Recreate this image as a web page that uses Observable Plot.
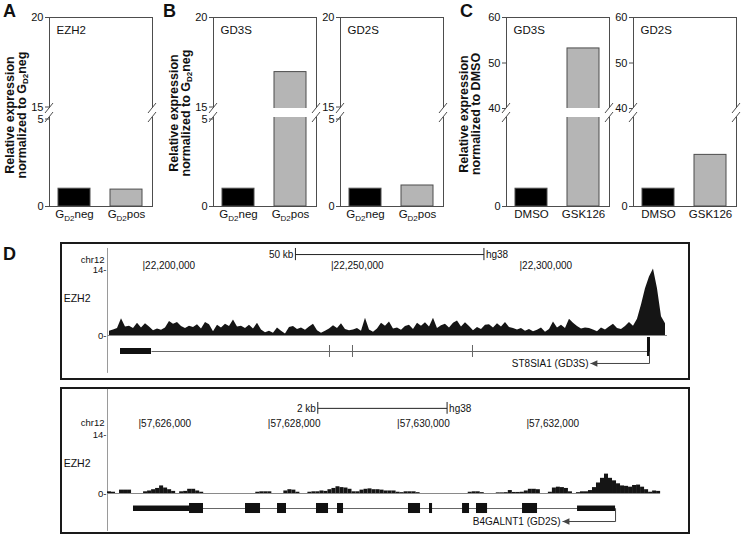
<!DOCTYPE html>
<html><head><meta charset="utf-8">
<script src="https://cdn.jsdelivr.net/npm/d3@7"></script>
<script src="https://cdn.jsdelivr.net/npm/@observablehq/plot@0.6"></script>
<style>
html,body{margin:0;padding:0;background:#fff;}
#fig{position:relative;width:744px;height:535px;overflow:hidden;font-family:Arial,"Liberation Sans",Helvetica,sans-serif;color:#111;}
.letter{position:absolute;font-weight:bold;font-size:18px;line-height:1;}
.ylab{position:absolute;transform:translate(-50%,-50%) rotate(-90deg);font-weight:bold;font-size:12.5px;line-height:12px;text-align:center;white-space:nowrap;}
.ylab sub{font-size:8px;vertical-align:-2px;line-height:0;}
</style></head><body><div id="fig"></div>
<script>
// ---------- data: bar panels ----------
const groupsGD2 = ["GD2neg", "GD2pos"];
const groupsDrug = ["DMSO", "GSK126"];
const ezh2A = [1.0, 0.95];
const gd3sB = [1.0, 17.0];
const gd2sB = [1.0, 1.18];
const gd3sC = [1.0, 53.2];
const gd2sC = [1.0, 2.9];
const yDomainB = [0, 5, 15, 20];     // broken axis 0-5 | 15-20
const yDomainC = [0, 5, 40, 60];     // broken axis 0-5 | 40-60
const ticksB = [0, 5, 15, 20];
const ticksC = [0, 40, 50, 60];

// ---------- data: genome track ST8SIA1 (chr12) ----------
const topXDomain = [22190450, 22339260];
const topTicks = [22200000, 22250000, 22300000];
const topScaleBar = [22240300, 22290300];
const topCovStart = 22190450, topCovBin = 1061;
const topCov = [
 0.9,1.2,1.5,3.6,1.8,2.0,1.5,2.6,1.6,2.5,
 1.8,1.0,1.4,1.1,1.6,3.0,2.4,2.8,1.9,1.5,
 2.0,1.7,2.3,1.4,2.8,2.3,0.8,2.2,1.6,2.4,
 1.9,3.3,1.8,2.0,1.5,2.2,1.4,2.6,1.2,0.6,
 0.9,0.5,1.6,0.9,0.3,1.7,1.9,1.3,1.6,1.1,
 1.8,2.4,1.0,0.5,0.9,1.4,2.1,1.5,2.5,1.3,
 1.0,1.2,1.5,0.9,3.7,1.2,0.7,1.4,2.6,2.0,
 2.9,1.4,1.6,1.1,1.9,2.2,1.3,2.6,2.0,2.7,
 1.8,3.7,1.5,2.1,2.4,1.6,2.6,3.1,1.8,2.7,
 1.9,1.0,1.7,1.3,2.2,2.3,1.6,2.5,1.8,2.8,
 1.7,1.5,1.2,1.5,0.9,1.3,0.8,1.1,1.6,0.7,
 1.3,2.9,1.6,2.2,1.5,3.5,2.6,1.9,1.4,1.6,
 1.5,1.2,0.8,1.6,1.2,1.8,2.4,1.5,1.3,1.9,
 2.8,2.0,3.5,6.5,10.0,12.5,14.2,10.0,4.0,2.5
];
const topGeneLine = [22202122, 22334217];
const topGeneBlocks = [[22193900, 22202122]];
const topGeneExonTicks = [22249337, 22255437, 22287267];
const topGeneEnd = [[22333686, 22334482]];
const topTSS = 22334217, topArrowHead = 22318568;
const topGeneName = "ST8SIA1 (GD3S)";

// ---------- data: genome track B4GALNT1 (chr12) ----------
const botXDomain = [57625505, 57634183];
const botTicks = [57626000, 57628000, 57630000, 57632000];
const botScaleBar = [57628758, 57630758];
const botCovStart = 57625505, botCovBin = 62;
const botCov = [
 0.4,0.3,0,0.8,0.8,0.8,0,0,0,0.4,
 0.6,0.9,1.2,1.8,1.3,0.9,0.5,0,0.4,0.5,
 1.0,1.0,0.6,0.3,0,0,0,0,0,0,
 0,0,0,0,0,0,0,0.3,0.4,0.4,
 0.4,0,0,0,0.6,0.9,0.8,0.3,0,0,
 0.3,0.4,0.4,0.6,0.5,0.9,1.2,1.6,1.4,1.3,
 1.0,0.4,0.4,0.8,1.0,1.1,0.9,0.9,0.8,0.6,
 0.6,0.6,0.3,0.2,0.4,0.4,0.4,0.2,0,0,
 0,0,0,0,0,0,0,0,0,0,
 0.3,0.4,0.4,0.2,0,0,0,0.15,0.15,0.2,
 0.7,0.25,0.25,0.3,0.6,1.0,1.0,0.9,0,0,
 0.3,1.3,1.5,1.4,1.2,0.4,0,0.2,0.4,0.4,
 0.7,1.4,2.5,3.6,4.6,3.6,3.0,2.3,1.8,1.7,
 1.5,1.9,2.0,1.5,0.9,0.3,0.6,0.5
];
const botGeneLine = [57625907, 57633364];
const botUTR = [[57625907, 57626774], [57632776, 57633364]];
const botExons = [[57626774,57626990],[57627640,57627872],[57628135,57628274],[57628738,57628924],
  [57629063,57629156],[57630161,57630347],[57630486,57630533],[57630997,57631105],
  [57631213,57631384],[57631925,57632157]];
const botTSS = 57633364, botArrowHead = 57632544;
const botGeneName = "B4GALNT1 (GD2S)";

// ---------- drawing ----------
const FONT = 'Arial, "Liberation Sans", Helvetica, sans-serif';
const fig = document.getElementById("fig");
function place(el, left, top) {
  el.style.position = "absolute"; el.style.left = left + "px"; el.style.top = top + "px";
  fig.appendChild(el); return el;
}
function html(cls, content, left, top) {
  const d = document.createElement("div"); d.className = cls; d.innerHTML = content;
  return place(d, left, top);
}
const EDGE = "#4d4d4d";

// broken axis: lower segment takes 89 units, gap 9, upper segment 91 (display units)
const LOW = 89, GAP = 9, HIGH = 91;
function breakMap(dom) {
  const [a, b, c, d] = dom;
  return v => v <= b ? (v - a) / (b - a) * LOW
    : v >= c ? LOW + GAP + (v - c) / (d - c) * HIGH
    : LOW + (v - b) / (c - b) * GAP;
}

function barPanel(frameLeft, title, groups, values, domain, ticks) {
  const f = breakMap(domain);
  const data = groups.map((g, i) => ({g, v: values[i], i}));
  const tickLabel = new Map(ticks.map(t => [f(t), String(t)]));
  const axisOpts = {tickFormat: d => tickLabel.get(d), tickSize: 4, tickPadding: 2, label: null, stroke: EDGE};
  const mainTicks = ticks.filter(t => t !== domain[1] && t !== domain[2]);
  const axes = [Plot.axisY({...axisOpts, ticks: mainTicks.map(f)})];
  if (ticks.includes(domain[2])) axes.push(Plot.axisY({...axisOpts, ticks: [f(domain[2])], dy: ticks.includes(domain[1]) ? -1.5 : 0}));
  if (ticks.includes(domain[1])) axes.push(Plot.axisY({...axisOpts, ticks: [f(domain[1])], dy: 1.5}));
  const ML = 32, MR = 6, W = 141;
  const svg = Plot.plot({
    width: W, height: 230, marginLeft: ML, marginRight: MR, marginTop: 17, marginBottom: 24,
    style: {background: "transparent", overflow: "visible", fontFamily: FONT, fontSize: "11px", color: "#111"},
    x: {domain: groups, paddingInner: 0.38, paddingOuter: 0.18},
    y: {domain: [0, LOW + GAP + HIGH], range: [206, 17]},
    marks: [
      Plot.barY(data, {x: "g", y: d => f(d.v), fill: d => d.i ? "#b5b5b5" : "#000", stroke: EDGE}),
      Plot.frame({stroke: EDGE}),
      Plot.rect([0], {y1: LOW, y2: LOW + GAP, fill: "#fff", insetLeft: -3, insetRight: -3}),
      ...axes,
      Plot.axisX({tickSize: 0, tickPadding: 3, label: null, fontSize: 11.5}),
      Plot.text([title], {text: d => d, frameAnchor: "top-left", textAnchor: "start", lineAnchor: "top", dx: 7, dy: 8, fontSize: 11.5})
    ]
  });
  // subscripts in G_D2 labels
  d3.select(svg).selectAll("text").each(function() {
    const m = /^G(D2)(neg|pos)$/.exec(this.textContent);
    if (!m) return;
    const t = d3.select(this); t.text(null);
    t.append("tspan").text("G");
    t.append("tspan").attr("dy", 3).attr("font-size", 8).text(m[1]);
    t.append("tspan").attr("dy", -3).text(m[2]);
  });
  // axis-break slashes, placed with the plot's y scale
  const ys = svg.scale("y");
  const g = d3.select(svg).append("g").attr("stroke", EDGE).attr("stroke-width", 1);
  for (const x of [ML, W - MR]) for (const v of [LOW + GAP, LOW]) {
    const y = ys.apply(v);
    g.append("line").attr("x1", x - 4).attr("y1", y + 5).attr("x2", x + 4).attr("y2", y - 5);
  }
  place(svg, frameLeft - ML, 0);
}

barPanel(49, "EZH2", groupsGD2, ezh2A, yDomainB, ticksB);
barPanel(213, "GD3S", groupsGD2, gd3sB, yDomainB, ticksB);
barPanel(340, "GD2S", groupsGD2, gd2sB, yDomainB, ticksB);
barPanel(506, "GD3S", groupsDrug, gd3sC, yDomainC, ticksC);
barPanel(633, "GD2S", groupsDrug, gd2sC, yDomainC, ticksC);

html("letter", "A", 3, 2);
html("letter", "B", 163, 2);
html("letter", "C", 460, 2);
html("letter", "D", 3, 245);
html("ylab", "Relative expression<br>normalized to G<sub>D2</sub>neg", 16, 115);
html("ylab", "Relative expression<br>normalized to G<sub>D2</sub>neg", 180, 113);
html("ylab", "Relative expression<br>normalized to DMSO", 470, 114);

// left-pointing filled triangle, tip at the anchor point
const arrowHead = {draw(ctx, size) { const r = Math.sqrt(size) * 1.1; ctx.moveTo(0, 0); ctx.lineTo(r * 1.6, -r * 0.75); ctx.lineTo(r * 1.6, r * 0.75); ctx.closePath(); }};
const fmt = d3.format(",");

function trackPanel(o) {
  const X0 = o.xDomain[0];
  const marks = [
    Plot.frame({stroke: "#1a1a1a", strokeWidth: 2}),
    Plot.ruleX([X0], {y1: o.lineY[0], y2: o.lineY[1], stroke: "#9a9a9a"}),
    Plot.ruleY([0], {x1: X0, x2: o.covStart + o.cov.length * o.covBin, stroke: "#8a8a8a"}),
    o.area
      ? Plot.areaY(o.cov, {x: (d, i) => o.covStart + (i + 0.5) * o.covBin, y: d => d, fill: "#151515", curve: "linear"})
      : Plot.rectY(o.cov.map((v, i) => ({v, i})).filter(d => d.v > 0),
          {x1: d => o.covStart + d.i * o.covBin, x2: d => o.covStart + (d.i + 1) * o.covBin, y: "v", fill: "#151515"}),
    Plot.text([0, 14], {x: X0, y: d => d, text: d => d + "-", textAnchor: "end", dx: -1, fontSize: 9.5}),
    Plot.text(["chr12"], {x: X0, y: o.chrY, text: d => d, textAnchor: "end", dx: -3, fontSize: 9.5}),
    Plot.text(["EZH2"], {x: X0, y: o.nameY, text: d => d, textAnchor: "end", dx: -17, fontSize: 10.5}),
    Plot.text(o.ticks, {x: d => d, y: o.posY, text: d => "|" + fmt(d), textAnchor: "start", dx: -1}),
    Plot.link([o.scaleBar], {x1: d => d[0], x2: d => d[1], y1: o.barY, y2: o.barY, stroke: "#222"}),
    Plot.ruleX(o.scaleBar, {y1: o.barY - o.barTick, y2: o.barY + o.barTick, stroke: "#222"}),
    Plot.text([o.scaleLabel], {x: o.scaleBar[0], y: o.barY, text: d => d, textAnchor: "end", dx: -2}),
    Plot.text(["hg38"], {x: o.scaleBar[1], y: o.barY, text: d => d, textAnchor: "start", dx: 2}),
    Plot.link([o.geneLine], {x1: d => d[0], x2: d => d[1], y1: o.geneY, y2: o.geneY, stroke: "#666"}),
    Plot.rect(o.utr, {x1: d => d[0], x2: d => d[1], y1: o.utrY[0], y2: o.utrY[1], fill: "#111"}),
    Plot.rect(o.exons, {x1: d => d[0], x2: d => d[1], y1: o.exonY[0], y2: o.exonY[1], fill: "#111"}),
    Plot.link([o.tss], {x1: d => d, x2: d => d, y1: o.geneY, y2: o.arrowY, stroke: "#444"}),
    Plot.link([o.tss], {x1: d => d, x2: o.head, y1: o.arrowY, y2: o.arrowY, stroke: "#444"}),
    Plot.dot([o.head], {x: d => d, y: o.arrowY, symbol: arrowHead, r: 2.2, fill: "#444", stroke: "none"}),
    Plot.text([o.geneName], {x: o.head, y: o.arrowY, text: d => d, textAnchor: "end", dx: -2})
  ];
  if (o.exonTicks) marks.push(Plot.ruleX(o.exonTicks, {y1: o.exonTickY[0], y2: o.exonTickY[1], stroke: "#666"}));
  const svg = Plot.plot({
    width: 631, height: o.height, marginLeft: 1.5, marginRight: 1.5, marginTop: 1.5, marginBottom: 1.5,
    style: {background: "transparent", overflow: "visible", fontFamily: FONT, fontSize: "10px", color: "#111"},
    x: {domain: o.xDomain, range: [48, 609], axis: null},
    y: {domain: [0, 14], range: o.yRange, axis: null},
    marks
  });
  place(svg, 59, o.top);
}

trackPanel({
  top: 241, height: 139, yRange: [94, 28.5], area: true,
  xDomain: topXDomain, ticks: topTicks, scaleBar: topScaleBar, scaleLabel: "50 kb",
  cov: topCov, covStart: topCovStart, covBin: topCovBin,
  lineY: [-8.1, 18.6], chrY: 16.1, nameY: 7.8, posY: 15.0, barY: 17.3, barTick: 1.3,
  geneLine: topGeneLine, geneY: -3.42, utr: topGeneBlocks, utrY: [-2.78, -4.06],
  exons: topGeneEnd, exonY: [-0.43, -4.49], exonTicks: topGeneExonTicks, exonTickY: [-2.14, -4.7],
  tss: topTSS, head: topArrowHead, arrowY: -5.98, geneName: topGeneName
});
trackPanel({
  top: 386, height: 148, yRange: [107, 48], area: false,
  xDomain: botXDomain, ticks: botTicks, scaleBar: botScaleBar, scaleLabel: "2 kb",
  cov: botCov, covStart: botCovStart, covBin: botCovBin,
  lineY: [-9.0, 24.7], chrY: 16.8, nameY: 7.1, posY: 16.6, barY: 20.2, barTick: 1.4,
  geneLine: botGeneLine, geneY: -3.56, utr: botUTR, utrY: [-2.97, -4.27],
  exons: botExons, exonY: [-2.37, -4.75],
  tss: botTSS, head: botArrowHead, arrowY: -6.65, geneName: botGeneName
});
</script></body></html>
